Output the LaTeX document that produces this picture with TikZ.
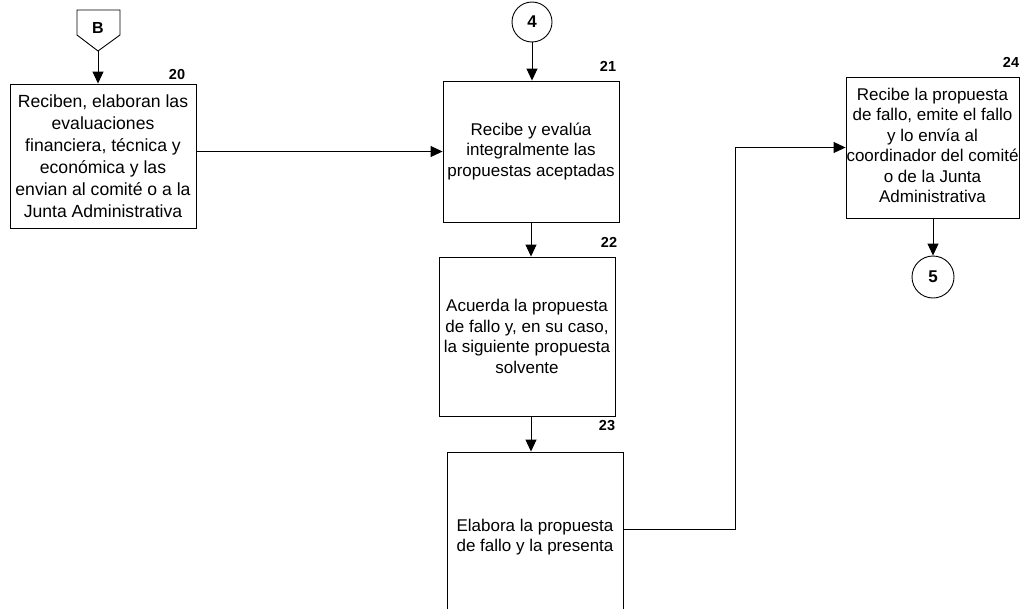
\documentclass[tikz,border=0pt]{standalone}
\usepackage{fontspec}
\setmainfont{Liberation Sans}
\usetikzlibrary{arrows.meta}
\begin{document}
\begin{tikzpicture}[x=1pt,y=-1pt, line width=0.9pt,
  box/.style={draw, rectangle, inner sep=0pt, align=center, font=\fontsize{17}{20.5}\selectfont},
  num/.style={font=\fontsize{14.5}{14.5}\selectfont\bfseries, inner sep=0pt},
  conn/.style={draw, circle, inner sep=0pt, font=\fontsize{17}{17}\selectfont\bfseries},
  arr/.style={-{Triangle[length=12pt,width=11pt]}}]
\useasboundingbox (0,0) rectangle (1024,608);
\clip (0,0) rectangle (1024,608);

% off-page connector B
\draw (77,10) -- (120,10) -- (120,35) -- (98,51) -- (77,35) -- cycle;
\node[font=\fontsize{16}{16}\selectfont\bfseries, inner sep=0pt] (B) at (98,28) {B};
\coordinate (Bpt) at (98,51);

% boxes
\node[box, minimum width=186pt, minimum height=144pt, font=\fontsize{17.6}{22}\selectfont] (b20) at (103,156)
  {Reciben, elaboran las\\evaluaciones\\financiera, técnica y\\económica y las\\envian al comité o a la\\Junta Administrativa};
\node[box, minimum width=176pt, minimum height=141pt] (b21) at (531,151.5)
  {Recibe y evalúa\\integralmente las\\propuestas aceptadas};
\node[box, minimum width=176pt, minimum height=159pt] (b22) at (527,336.5)
  {Acuerda la propuesta\\de fallo y, en su caso,\\la siguiente propuesta\\solvente};
\node[box, minimum width=176pt, minimum height=170pt] (b23) at (535,537)
  {Elabora la propuesta\\de fallo y la presenta};
\node[box, minimum width=173pt, minimum height=141pt] (b24) at (932.5,147.5)
  {\raisebox{6pt}{\begin{tabular}{@{}c@{}}Recibe la propuesta\\de fallo, emite el fallo\\y lo envía al\\coordinador del comité\\o de la Junta\\Administrativa\end{tabular}}};

% circle connectors
\node[conn, minimum size=40pt] (c4) at (532,22) {4};
\node[conn, minimum size=42pt] (c5) at (933,277) {5};

% numbers
\node[num] (n20) at (177,74.5) {20};
\node[num] (n21) at (608,66) {21};
\node[num] (n22) at (609,242) {22};
\node[num] (n23) at (607,426) {23};
\node[num] (n24) at (1011,62) {24};

% connectors
\draw[arr] (Bpt) -- (Bpt |- b20.north);
\draw[arr] (c4) -- (c4 |- b21.north);
\draw[arr] (b20.east |- b21.west) -- (b21.west);
\draw[arr] (b21.south) -- (b21.south |- b22.north);
\draw[arr] (b21.south |- b22.south) -- (b21.south |- b23.north);
\coordinate (k1) at (735,529);
\draw[arr] (b23.east |- k1) -- (k1) |- (b24.west);
\draw[arr] (b24.south -| c5) -- (c5);
\end{tikzpicture}
\end{document}
